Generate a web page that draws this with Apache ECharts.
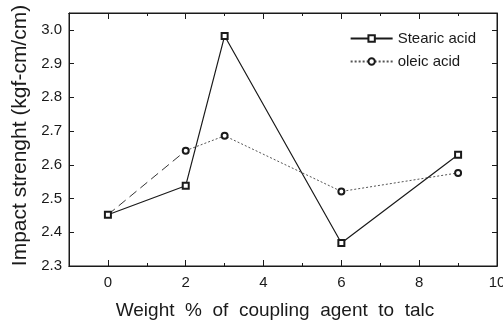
<!DOCTYPE html>
<html>
<head>
<meta charset="utf-8">
<script src="https://cdn.jsdelivr.net/npm/echarts@6/dist/echarts.min.js"></script>
<style>
  html, body { margin: 0; padding: 0; background: #fff; }
  #chart { width: 503px; height: 323px; }
</style>
</head>
<body>
<div id="chart"></div>
<script>
// values
const weightPct = [0, 2, 3, 6, 9];
const stearicAcid = [2.452, 2.538, 2.982, 2.368, 2.630];
const oleicAcid = [2.452, 2.642, 2.686, 2.521, 2.576];
const xMajorTicks = [0, 2, 4, 6, 8, 10];
const xMinorTicks = [1, 3, 5, 7, 9];
const yTicks = [2.3, 2.4, 2.5, 2.6, 2.7, 2.8, 2.9, 3.0];

const font = "Liberation Sans, Arial, sans-serif";
const ink = "#1a1a1a";

const pairs = (xs, ys) => xs.map((x, i) => [x, ys[i]]);

const chart = echarts.init(document.getElementById("chart"));

const gridBox = { left: 69, right: 6, top: 13, bottom: 57, outerBoundsMode: "none", containLabel: false };

function xAxisDef(gridIndex, pos, ticks, len, withLabels) {
  return {
    type: "value",
    gridIndex: gridIndex,
    position: pos,
    min: -1,
    max: 10,
    axisLine: { show: true, onZero: false, lineStyle: { color: ink, width: 1 } },
    axisTick: { show: true, inside: true, length: len, customValues: ticks, lineStyle: { color: ink } },
    axisLabel: withLabels
      ? { show: true, customValues: xMajorTicks, color: ink, fontFamily: font, fontSize: 15, margin: 9 }
      : { show: false },
    splitLine: { show: false }
  };
}

function yAxisDef(gridIndex, pos, visible) {
  return {
    type: "value",
    gridIndex: gridIndex,
    position: pos,
    min: 2.3,
    max: 3.05,
    show: visible,
    axisLine: { show: true, onZero: false, lineStyle: { color: ink } },
    axisTick: { show: true, inside: true, length: 5, customValues: yTicks, lineStyle: { color: ink } },
    axisLabel: { show: false },
    splitLine: { show: false }
  };
}

chart.setOption({
  animation: false,
  backgroundColor: "#fff",
  // grid 0 draws the frame; grid 1 sits on top of it only to carry the minor x ticks
  grid: [
    Object.assign({ show: true, borderColor: ink, borderWidth: 1, backgroundColor: "transparent" }, gridBox),
    Object.assign({ show: false }, gridBox)
  ],
  legend: {
    right: 22,
    top: 26,
    orient: "vertical",
    itemWidth: 42,
    itemHeight: 8,
    itemGap: 8,
    data: ["Stearic acid", "oleic acid"],
    textStyle: { color: ink, fontFamily: font, fontSize: 15 }
  },
  xAxis: [
    Object.assign(xAxisDef(0, "bottom", xMajorTicks, 6, true), {
      name: "Weight  %  of  coupling  agent  to  talc",
      nameLocation: "middle",
      nameGap: 35,
      nameTextStyle: { color: ink, fontFamily: font, fontSize: 19, padding: [0, 16, 0, 0] }
    }),
    xAxisDef(0, "top", xMajorTicks, 6, false),
    xAxisDef(1, "bottom", xMinorTicks, 3, false),
    xAxisDef(1, "top", xMinorTicks, 3, false)
  ],
  yAxis: [
    Object.assign(yAxisDef(0, "left", true), {
      name: "Impact strenght (kgf-cm/cm)",
      nameLocation: "middle",
      nameGap: 33,
      nameTextStyle: { color: ink, fontFamily: font, fontSize: 21, padding: [0, 0, 0, 8] },
      axisLabel: {
        customValues: yTicks,
        color: ink,
        fontFamily: font,
        fontSize: 15,
        margin: 7,
        formatter: v => v.toFixed(1)
      }
    }),
    yAxisDef(0, "right", true),
    yAxisDef(1, "left", false),
    yAxisDef(1, "right", false)
  ],
  series: [
    {
      name: "Stearic acid",
      type: "line",
      data: pairs(weightPct, stearicAcid),
      symbol: "emptyRect",
      symbolSize: 6,
      lineStyle: { color: ink, width: 1.2, type: "solid" },
      itemStyle: { color: ink, borderColor: ink, borderWidth: 1.2 },
      z: 3
    },
    {
      name: "oleic acid",
      type: "line",
      data: pairs(weightPct, oleicAcid).slice(1),
      symbol: "emptyCircle",
      symbolSize: 6,
      lineStyle: { color: "#555", width: 1, type: [2, 2] },
      itemStyle: { color: ink, borderColor: ink, borderWidth: 1.2 },
      z: 2
    },
    {
      // first oleic segment is drawn long-dashed in the figure
      name: "oleic acid",
      type: "line",
      data: pairs(weightPct, oleicAcid).slice(0, 2),
      symbol: "none",
      lineStyle: { color: "#333", width: 1, type: [9, 5] },
      z: 1
    }
  ]
});
</script>
</body>
</html>
